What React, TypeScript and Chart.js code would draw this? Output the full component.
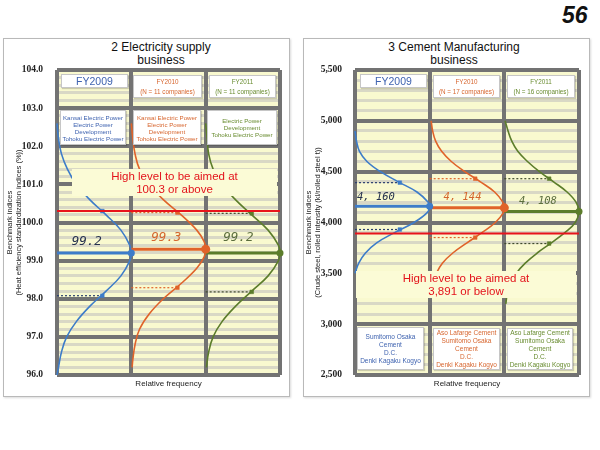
import React, { useEffect, useRef } from 'react';
import { Chart, registerables } from 'chart.js';

Chart.register(...registerables);

// ===== Shared categories =====
const fiscalYears = ['FY2009', 'FY2010', 'FY2011'];
const seriesColors = ['#3d7cc9', '#e0632a', '#5c7d2b'];
const dotLineColors = ['#2b3f6e', '#e0632a', '#3f4a2c'];
const labelColors = ['#26324f', '#d4662e', '#5b6d3e'];
const textColors = ['#3f63b0', '#d7662f', '#6a8d32'];

// ===== 2 Electricity supply business =====
const elecCounts = ['', '(N = 11 companies)', '(N = 11 companies)'];
const elecCompanies = [
  ['Kansai Electric Power', 'Electric Power', 'Development', 'Tohoku Electric Power'],
  ['Kansai Electric Power', 'Electric Power', 'Development', 'Tohoku Electric Power'],
  ['Electric Power', 'Development', 'Tohoku Electric Power'],
];
const elecMeans = [99.2, 99.3, 99.2];
const elecUpper = [100.3, 100.26, 100.24];
const elecLower = [98.08, 98.29, 98.18];
const elecMarkerFreq = [0.61, 0.62, 0.62];
const elecTarget = 100.3;
const elecTickValues = [96, 97, 98, 99, 100, 101, 102, 103, 104];
const elecTickLabels = ['96.0', '97.0', '98.0', '99.0', '100.0', '101.0', '102.0', '103.0', '104.0'];
const elecBlueY = [102.6, 102.2, 101.8, 101.4, 101.0, 100.6, 100.2, 99.8, 99.4, 99.2, 99.0, 98.6, 98.2, 97.8, 97.4, 97.0, 96.6, 96.2, 96.0];
const elecBlueF = [0.0, 0.02, 0.06, 0.14, 0.26, 0.44, 0.66, 0.86, 0.98, 1.0, 0.98, 0.86, 0.66, 0.44, 0.26, 0.13, 0.06, 0.02, 0.0];
const elecOrangeY = [102.6, 102.2, 101.8, 101.4, 101.0, 100.6, 100.2, 99.8, 99.5, 99.3, 99.1, 98.8, 98.4, 98.0, 97.6, 97.2, 96.8, 96.4, 96.2];
const elecOrangeF = [0.0, 0.02, 0.05, 0.11, 0.24, 0.43, 0.67, 0.88, 0.98, 1.0, 0.98, 0.88, 0.67, 0.43, 0.24, 0.11, 0.05, 0.02, 0.01];
const elecGreenY = [102.6, 102.2, 101.8, 101.4, 101.0, 100.6, 100.2, 99.8, 99.4, 99.2, 99.0, 98.6, 98.2, 97.8, 97.4, 97.0, 96.6, 96.2];
const elecGreenF = [0.0, 0.02, 0.04, 0.1, 0.22, 0.4, 0.62, 0.84, 0.98, 1.0, 0.98, 0.84, 0.62, 0.4, 0.22, 0.1, 0.04, 0.01];

// ===== 3 Cement Manufacturing business =====
const cementCounts = ['', '(N = 17 companies)', '(N = 16 companies)'];
const cementCompanies = [
  ['Sumitomo Osaka', 'Cement', 'D.C.', 'Denki Kagaku Kogyo'],
  ['Aso Lafarge Cement', 'Sumitomo Osaka', 'Cement', 'D.C.', 'Denki Kagaku Kogyo'],
  ['Aso Lafarge Cement', 'Sumitomo Osaka', 'Cement', 'D.C.', 'Denki Kagaku Kogyo'],
];
const cementMeans = [4160, 4144, 4108];
const cementUpper = [4392, 4431, 4431];
const cementLower = [3931, 3852, 3793];
const cementMarkerFreq = [0.6, 0.61, 0.6];
const cementTarget = 3891;
const cementTickValues = [2500, 3000, 3500, 4000, 4500, 5000, 5500];
const cementTickLabels = ['2,500', '3,000', '3,500', '4,000', '4,500', '5,000', '5,500'];
const cementBlueY = [4900, 4800, 4700, 4600, 4500, 4400, 4300, 4200, 4160, 4100, 4000, 3900, 3800, 3700, 3600, 3500];
const cementBlueF = [0.0, 0.02, 0.06, 0.16, 0.34, 0.58, 0.83, 0.98, 1.0, 0.97, 0.79, 0.53, 0.29, 0.14, 0.05, 0.0];
const cementOrangeY = [5000, 4900, 4800, 4700, 4600, 4500, 4400, 4300, 4200, 4144, 4100, 4000, 3900, 3800, 3700, 3600, 3500, 3400, 3300];
const cementOrangeF = [0.02, 0.04, 0.08, 0.16, 0.29, 0.47, 0.68, 0.87, 0.98, 1.0, 0.99, 0.88, 0.7, 0.5, 0.31, 0.17, 0.09, 0.04, 0.02];
const cementGreenY = [5000, 4900, 4800, 4700, 4600, 4500, 4400, 4300, 4200, 4108, 4000, 3900, 3800, 3700, 3600, 3500, 3400, 3300, 3200];
const cementGreenF = [0.01, 0.05, 0.1, 0.18, 0.31, 0.47, 0.66, 0.84, 0.96, 1.0, 0.95, 0.81, 0.63, 0.44, 0.28, 0.16, 0.09, 0.04, 0.02];

const SANS = '"Liberation Sans", Arial, sans-serif';

type PanelSpec = {
  min: number; max: number; minorStep: number;
  tickValues: number[]; tickLabels: string[];
  means: number[]; upper: number[]; lower: number[]; markerFreq: number[];
  target: number;
  curves: { ys: number[]; fs: number[] }[];
  yTitle: string[];
  axisWidth: number; tickPad: number; padRight: number; titlePad: number;
  labelX: number[]; labelDy: number[]; labelSize: number;
  fmt: (v: number) => string;
};

function isTick(values: number[], v: number) {
  return values.findIndex((t) => Math.abs(t - v) < 1e-6);
}

function buildChart(canvas: HTMLCanvasElement, p: PanelSpec) {
  const datasets: any[] = [];
  datasets.push({
    data: [{ x: 0, y: p.target }, { x: 3, y: p.target }],
    borderColor: '#e8141c', borderWidth: 2, pointRadius: 0, order: 0, showLine: true, clip: false,
  });
  for (let i = 0; i < 3; i++) {
    datasets.push({
      data: [{ x: i, y: p.means[i] }, { x: i + 1, y: p.means[i] }],
      borderColor: seriesColors[i], backgroundColor: seriesColors[i], pointBackgroundColor: seriesColors[i],
      borderWidth: 3, pointRadius: [0, i === 1 ? 4.5 : 3.5], pointBorderWidth: 0, order: 1, showLine: true, clip: false,
    });
    for (const v of [p.upper[i], p.lower[i]]) {
      datasets.push({
        data: [{ x: i, y: v }, { x: i + p.markerFreq[i], y: v }],
        borderColor: dotLineColors[i], borderDash: [2, 2], borderWidth: 1.2,
        pointRadius: [0, 2.6], pointStyle: 'rect', pointBackgroundColor: seriesColors[i],
        pointBorderColor: seriesColors[i], pointBorderWidth: 0.5, order: 2, showLine: true, clip: false,
      });
    }
    const c = p.curves[i];
    datasets.push({
      data: c.ys.map((y, k) => ({ x: i + c.fs[k], y })),
      borderColor: seriesColors[i], borderWidth: 1.6, pointRadius: 0, tension: 0.4,
      order: 3, showLine: true, clip: false,
    });
  }

  const bgPlugin = {
    id: 'plotBg',
    beforeDraw(chart: any) {
      const { ctx, chartArea: a } = chart;
      ctx.save();
      ctx.fillStyle = '#f9f9cf';
      ctx.fillRect(a.left, a.top, a.right - a.left, a.bottom - a.top);
      ctx.restore();
    },
  };
  const labelPlugin = {
    id: 'valueLabels',
    afterDatasetsDraw(chart: any) {
      const { ctx } = chart;
      const xs = chart.scales.x;
      const ys = chart.scales.y;
      ctx.save();
      ctx.font = `italic ${p.labelSize}px "DejaVu Sans Mono", monospace`;
      ctx.textAlign = 'center';
      ctx.textBaseline = 'middle';
      for (let i = 0; i < p.means.length; i++) {
        const m = p.means[i];
        ctx.fillStyle = labelColors[i];
        ctx.fillText(p.fmt(m), xs.getPixelForValue(i + p.labelX[i]), ys.getPixelForValue(m) - p.labelDy[i]);
      }
      ctx.restore();
    },
  };

  return new Chart(canvas, {
    type: 'scatter',
    data: { datasets },
    plugins: [bgPlugin, labelPlugin],
    options: {
      animation: false,
      responsive: false,
      events: [],
      layout: { padding: { left: 0, right: p.padRight, top: 20, bottom: 0 } },
      plugins: { legend: { display: false }, tooltip: { enabled: false } },
      scales: {
        x: {
          type: 'linear', min: 0, max: 3,
          ticks: { display: false, stepSize: 1 },
          grid: { color: '#737373', lineWidth: 4, drawTicks: false, z: -1 },
          border: { display: false },
          title: { display: true, text: 'Relative frequency', color: '#222', font: { family: SANS, size: 8 }, padding: { top: 0, bottom: 7 } },
          afterFit: (s: any) => { s.height = 21; },
        },
        y: {
          type: 'linear', min: p.min, max: p.max,
          ticks: {
            stepSize: p.minorStep, autoSkip: false, maxTicksLimit: 1000, padding: p.tickPad, color: '#222',
            font: { family: '"Liberation Serif", "Times New Roman", serif', size: 9.5, weight: 'bold' },
            callback: (v: any) => {
              const idx = isTick(p.tickValues, Number(v));
              return idx >= 0 ? p.tickLabels[idx] : '';
            },
          },
          grid: {
            z: -2, drawTicks: false,
            color: (c: any) => (isTick(p.tickValues, c.tick.value) >= 0 ? '#737373' : '#d9d8c5'),
            lineWidth: (c: any) => (isTick(p.tickValues, c.tick.value) >= 0 ? 4 : 3),
          },
          border: { display: false },
          title: { display: true, text: p.yTitle, color: '#222', font: { family: SANS, size: 7.5, lineHeight: 1.15 }, padding: { top: p.titlePad, bottom: 0 } },
          afterFit: (s: any) => { s.width = p.axisWidth; },
        },
      },
    } as any,
  });
}

function ChartCanvas({ spec, left, top, width, height }: { spec: PanelSpec; left: number; top: number; width: number; height: number }) {
  const ref = useRef<HTMLCanvasElement>(null);
  useEffect(() => {
    if (!ref.current) return;
    const chart = buildChart(ref.current, spec);
    return () => chart.destroy();
  }, []);
  return <canvas ref={ref} width={width} height={height} style={{ position: 'absolute', left, top, width, height }} />;
}

function Box({ x, y, w, h, lines, color, size, lh, bg = '#ffffff', border = '1px solid #c6c6c6', shadow = true }: any) {
  return (
    <div style={{
      position: 'absolute', left: x, top: y, width: w, height: h, boxSizing: 'border-box', background: bg, border,
      boxShadow: shadow ? '1px 1px 1px rgba(0,0,0,0.18)' : 'none', color, fontSize: size, lineHeight: lh + 'px',
      display: 'flex', flexDirection: 'column', justifyContent: 'center', alignItems: 'center', textAlign: 'center',
      whiteSpace: 'nowrap', fontFamily: SANS,
    }}>
      {lines.map((l: string, i: number) => <div key={i}>{l}</div>)}
    </div>
  );
}

const elecSpec: PanelSpec = {
  min: 96, max: 104, minorStep: 0.2,
  tickValues: elecTickValues, tickLabels: elecTickLabels,
  means: elecMeans, upper: elecUpper, lower: elecLower, markerFreq: elecMarkerFreq, target: elecTarget,
  curves: [{ ys: elecBlueY, fs: elecBlueF }, { ys: elecOrangeY, fs: elecOrangeF }, { ys: elecGreenY, fs: elecGreenF }],
  yTitle: ['Benchmark indices', '(Heat efficiency standardization indices (%))'],
  axisWidth: 53, tickPad: 14, padRight: 9, titlePad: 1.5,
  labelX: [0.4, 0.47, 0.44], labelDy: [11, 11, 15], labelSize: 12.5,
  fmt: (v) => v.toFixed(1),
};

const cementSpec: PanelSpec = {
  min: 2500, max: 5500, minorStep: 100,
  tickValues: cementTickValues, tickLabels: cementTickLabels,
  means: cementMeans, upper: cementUpper, lower: cementLower, markerFreq: cementMarkerFreq, target: cementTarget,
  curves: [{ ys: cementBlueY, fs: cementBlueF }, { ys: cementOrangeY, fs: cementOrangeF }, { ys: cementGreenY, fs: cementGreenF }],
  yTitle: ['Benchmark indices', '(Crude steel, rolled intensity (kl/rolled steel t))'],
  axisWidth: 51, tickPad: 13, padRight: 10, titlePad: 0.5,
  labelX: [0.28, 0.44, 0.45], labelDy: [9, 11, 10], labelSize: 10.5,
  fmt: (v) => `${Math.floor(v / 1000)}, ${String(v % 1000).padStart(3, '0')}`,
};

function Panel({ x, spec, title, titleCenter, counts, companies, headerX, companyBoxes, targetBox, targetText }: any) {
  return (
    <>
      <div style={{ position: 'absolute', left: x, top: 38, width: 287, height: 359, boxSizing: 'border-box', border: '1px solid #b9b9b9', boxShadow: '1px 1px 2px rgba(0,0,0,0.15)', background: '#fff' }} />
      <div style={{ position: 'absolute', left: titleCenter - 100, top: 40.5, width: 200, textAlign: 'center', fontFamily: SANS, fontSize: 12, lineHeight: '13px', color: '#111' }}>
        {title.map((t: string, i: number) => <div key={i}>{t}</div>)}
      </div>
      <ChartCanvas spec={spec} left={x + 1} top={50} width={285} height={346} />
      {fiscalYears.map((fy, i) => (
        i === 0
          ? <Box key={'h' + i} x={headerX[i][0]} y={74} w={headerX[i][1]} h={14} lines={[fy]} color={textColors[i]} size={10.5} lh={12} />
          : <Box key={'h' + i} x={headerX[i][0]} y={75} w={headerX[i][1]} h={23} lines={[fy, counts[i]]} color={textColors[i]} size={6.3} lh={10} />
      ))}
      {companies.map((lines: string[], i: number) => (
        <Box key={'c' + i} x={companyBoxes[i][0]} y={companyBoxes[i][1]} w={companyBoxes[i][2]} h={companyBoxes[i][3]} lines={lines} color={textColors[i]} size={companyBoxes[i][4]} lh={companyBoxes[i][5]} />
      ))}
      <Box x={targetBox[0]} y={targetBox[1]} w={targetBox[2]} h={targetBox[3]} lines={targetText} color="#e3131b" size={11.5} lh={12.5} bg="#fbfbd6" border="none" shadow={false} />
    </>
  );
}

export default function App() {
  return (
    <div style={{ position: 'absolute', left: 0, top: 0, width: 600, height: 450, background: '#fff', overflow: 'hidden' }}>
      <div style={{ position: 'absolute', left: 562, top: 2, fontFamily: SANS, fontSize: 23, fontWeight: 'bold', fontStyle: 'italic', color: '#111' }}>56</div>
      <Panel
        x={3}
        spec={elecSpec}
        title={['2 Electricity supply', 'business']}
        titleCenter={161}
        counts={elecCounts}
        companies={elecCompanies}
        headerX={[[61, 67], [133, 69], [209, 67]]}
        companyBoxes={[[60, 110, 66, 35, 6.2, 7], [133, 110, 68, 35, 6.2, 7], [207, 110, 70, 35, 6.2, 7]]}
        targetBox={[72, 169, 205, 27]}
        targetText={['High level to be aimed at', `${elecTarget.toFixed(1)} or above`]}
      />
      <Panel
        x={303}
        spec={cementSpec}
        title={['3 Cement Manufacturing', 'business']}
        titleCenter={454}
        counts={cementCounts}
        companies={cementCompanies}
        headerX={[[360, 67], [433, 67], [507, 68]]}
        companyBoxes={[[357, 327, 67, 43, 6.5, 8], [433, 328, 67, 42, 6.5, 8], [507, 328, 66, 42, 6.5, 8]]}
        targetBox={[356, 271, 220, 27]}
        targetText={['High level to be aimed at', `${cementTarget.toLocaleString('en-US')} or below`]}
      />
    </div>
  );
}
